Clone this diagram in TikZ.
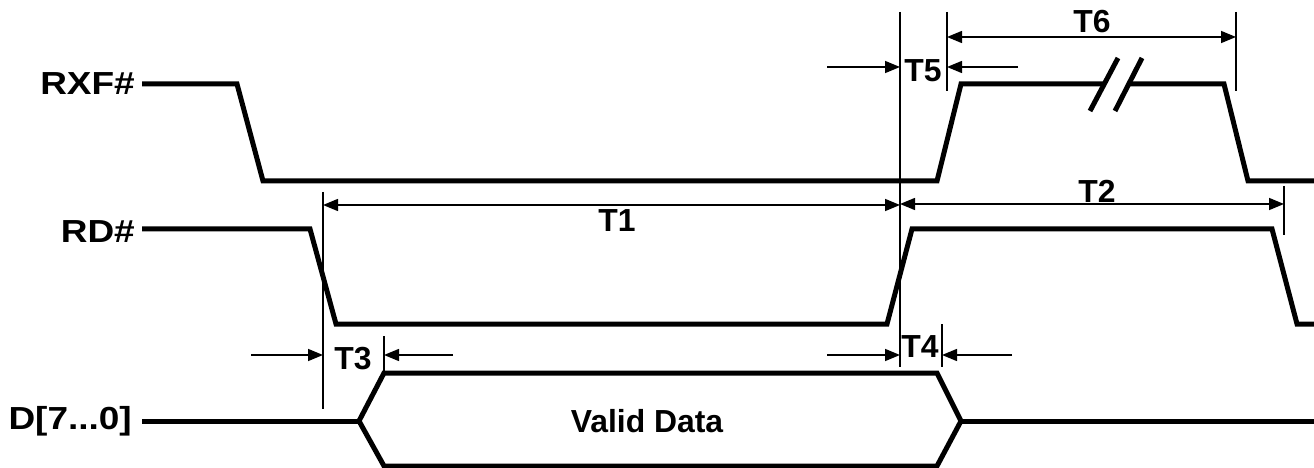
\documentclass[tikz,border=0pt]{standalone}
\usepackage{fontspec}
\setmainfont{Liberation Sans}
\usetikzlibrary{arrows.meta}
\newcommand{\widelbl}[1]{\scalebox{1.16}[1]{#1}}
\begin{document}
\begin{tikzpicture}[x=1bp,y=-1bp,
  sig/.style={line width=5bp,line join=miter,line cap=butt},
  thin/.style={line width=1.5bp},
  dim/.style={line width=1.5bp,-{Triangle[length=15bp,width=12bp]}},
  dimb/.style={line width=1.5bp,{Triangle[length=15bp,width=12bp]}-{Triangle[length=15bp,width=12bp]}},
  siglabel/.style={font=\fontsize{32}{32}\selectfont\bfseries,anchor=east,inner sep=0pt},
  tlabel/.style={font=\fontsize{32}{32}\selectfont\bfseries,inner sep=0pt}]
\useasboundingbox (0,0) rectangle (1314,468);
% signal labels
\node[siglabel] (rxf) at (135,84) {\widelbl{RXF\#}};
\node[siglabel] (rd) at (135,232) {\widelbl{RD\#}};
\node[siglabel] (d) at (132,421) {\widelbl{D[7...0]}};
% RXF#
\draw[sig] (142,84) -- (237,84) -- (263,181) -- (937,181) -- (961,84) -- (1104,84);
\draw[sig] (1128,84) -- (1224,84) -- (1248,181) -- (1314,181);
\draw[sig] (1090,111) -- (1118,58);
\draw[sig] (1115,111) -- (1142,58);
% RD#
\draw[sig] (142,229) -- (310,229) -- (336,324) -- (887,324) -- (912,229) -- (1272,229) -- (1297,324) -- (1314,324);
% D
\draw[sig] (142,421) -- (359,421);
\draw[sig] (359,421) -- (384,373) -- (937,373) -- (961,421) -- (937,466) -- (384,466) -- cycle;
\draw[sig] (961,421) -- (1314,421);
\node[font=\fontsize{32}{32}\selectfont\bfseries,inner sep=0pt] (vd) at (647,421) {Valid Data};
% thin vertical lines
\coordinate (v0t) at (900,12); \coordinate (v0b) at (900,367);
\draw[thin] (v0t) -- (v0b);
\draw[thin] (947,12) -- (947,91);
\draw[thin] (1236,12) -- (1236,91);
\draw[thin] (1284,186) -- (1284,235);
\draw[thin] (323,192) -- (323,409);
\draw[thin] (384,336) -- (384,373);
\draw[thin] (942,324) -- (942,367);
% dimensions
\draw[dimb] (323,205) -- (900,205);
\node[tlabel] (t1) at (617,221) {T1};
\draw[dimb] (900,204) -- (1284,204);
\node[tlabel] (t2) at (1097,191) {T2};
\draw[dimb] (947,37) -- (1236,37);
\node[tlabel] (t6) at (1092,22) {T6};
\draw[dim] (827,67) -- (900,67);
\draw[dim] (1018,67) -- (947,67);
\node[tlabel] (t5) at (923,71) {T5};
\draw[dim] (251,355) -- (323,355);
\draw[dim] (453,355) -- (384,355);
\node[tlabel] (t3) at (353,359) {T3};
\draw[dim] (827,355) -- (900,355);
\draw[dim] (1012,355) -- (942,355);
\node[tlabel] (t4) at (920,347) {T4};
\end{tikzpicture}
\end{document}
